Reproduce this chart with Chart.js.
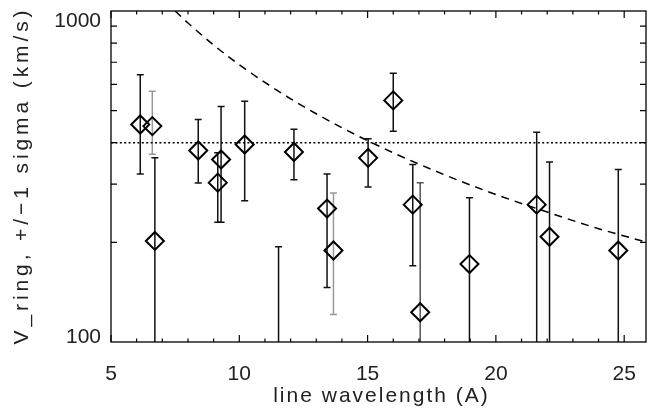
<!DOCTYPE html>
<html>
<head>
<meta charset="utf-8">
<script src="https://cdn.jsdelivr.net/npm/chart.js@4.4.1/dist/chart.umd.min.js"></script>
<style>
  html, body { margin: 0; padding: 0; background: #fff; }
</style>
</head>
<body>
<canvas id="chart" width="657" height="412"></canvas>
<script>
const wavelengths = [6.14, 6.61, 6.71, 8.40, 9.16, 9.29, 10.21, 11.53, 12.13, 13.42, 13.67, 15.02, 16.00, 16.76, 17.05, 18.97, 21.59, 22.09, 24.77];
const vRing = [454, 449, 202, 379, 303, 356, 395, 60, 375, 253, 189, 360, 537, 260, 123, 172, 260, 208, 189];
const vLow  = [322, 369, 50, 302, 230, 230, 267, 50, 309, 146, 121, 294, 433, 170, 50, 50, 50, 50, 50];
const vHigh = [642, 572, 360, 470, 373, 515, 534, 194, 439, 322, 282, 411, 649, 344, 303, 273, 430, 350, 332];
const barColors = ['#111', '#999', '#111', '#111', '#111', '#111', '#111', '#111', '#111', '#111', '#999', '#111', '#111', '#111', '#555', '#111', '#111', '#111', '#111'];

// dashed model curve
const curveWavelengths = [7.5, 8, 9, 10, 12, 14, 16, 18, 20, 22, 24, 26];
const curveV = [1000, 920, 789, 688, 543, 444, 373, 320, 279, 247, 220, 199];

// dotted reference level
const meanLevel = 400;

const xRange = [5, 25.85];
const yRange = [100, 1000];
const xTicks = [5, 10, 15, 20, 25];
const yTickLabels = [100, 1000];
const xTitle = 'line wavelength (A)';
const yTitle = 'V_ring, +/\u22121 sigma (km/s)';

const FONT = '"Liberation Sans", Arial, sans-serif';
const TEXT = '#222';

const idlFrame = {
  id: 'idlFrame',
  beforeDatasetsDraw(chart) {
    const { ctx, chartArea: a, scales: { x, y } } = chart;
    ctx.save();
    ctx.beginPath();
    ctx.rect(a.left, a.top, a.right - a.left, a.bottom - a.top);
    ctx.clip();
    ctx.lineWidth = 1.5;
    wavelengths.forEach((w, i) => {
      const px = x.getPixelForValue(w);
      const yl = y.getPixelForValue(vLow[i]);
      const yh = y.getPixelForValue(vHigh[i]);
      ctx.strokeStyle = barColors[i];
      ctx.beginPath();
      ctx.moveTo(px, yl); ctx.lineTo(px, yh);
      ctx.moveTo(px - 3.5, yh); ctx.lineTo(px + 3.5, yh);
      ctx.moveTo(px - 3.5, yl); ctx.lineTo(px + 3.5, yl);
      ctx.stroke();
    });
    ctx.restore();
  },
  afterDraw(chart) {
    const { ctx, chartArea: a, scales: { x, y } } = chart;
    ctx.save();
    ctx.strokeStyle = '#000';
    ctx.lineWidth = 1.3;
    ctx.strokeRect(a.left, a.top, a.right - a.left, a.bottom - a.top);

    // inward ticks, all four sides
    ctx.lineWidth = 1.2;
    ctx.beginPath();
    for (let v = xRange[0]; v <= xRange[1]; v += 1) {
      const px = x.getPixelForValue(v);
      const len = v % 5 === 0 ? 7 : 3.5;
      ctx.moveTo(px, a.bottom); ctx.lineTo(px, a.bottom - len);
      ctx.moveTo(px, a.top); ctx.lineTo(px, a.top + len);
    }
    for (let v = 200; v < yRange[1]; v += 100) {
      const py = y.getPixelForValue(v);
      ctx.moveTo(a.left, py); ctx.lineTo(a.left + 6, py);
      ctx.moveTo(a.right, py); ctx.lineTo(a.right - 6, py);
    }
    ctx.stroke();

    ctx.fillStyle = TEXT;
    ctx.font = '21px ' + FONT;
    ctx.textAlign = 'right';
    ctx.textBaseline = 'alphabetic';
    yTickLabels.forEach(v => {
      const py = y.getPixelForValue(v);
      const base = v === yRange[0] ? py + 1 : py + 16;
      ctx.fillText(String(v), a.left - 10, base);
    });

    ctx.textAlign = 'center';
    ctx.letterSpacing = '2px';
    ctx.fillText(xTitle, (a.left + a.right) / 2 + 3, 402);

    ctx.translate(28, (a.top + a.bottom) / 2 - 1);
    ctx.rotate(-Math.PI / 2);
    ctx.letterSpacing = '3.9px';
    ctx.fillText(yTitle, 0, 0);
    ctx.restore();
  }
};

new Chart(document.getElementById('chart'), {
  type: 'scatter',
  data: {
    datasets: [
      {
        data: wavelengths.map((w, i) => ({ x: w, y: vRing[i] })),
        pointStyle: 'rectRot',
        pointRadius: 9,
        pointHoverRadius: 9,
        borderColor: '#000',
        backgroundColor: 'rgba(0,0,0,0)',
        borderWidth: 2
      },
      {
        type: 'line',
        data: curveWavelengths.map((w, i) => ({ x: w, y: curveV[i] })),
        borderColor: '#000',
        borderWidth: 1.5,
        borderDash: [8, 6],
        pointRadius: 0,
        fill: false,
        cubicInterpolationMode: 'monotone'
      },
      {
        type: 'line',
        data: [{ x: xRange[0], y: meanLevel }, { x: xRange[1], y: meanLevel }],
        borderColor: '#000',
        borderWidth: 1.5,
        borderDash: [2, 2.4],
        pointRadius: 0,
        fill: false
      }
    ]
  },
  options: {
    responsive: false,
    animation: false,
    layout: { padding: { top: 9, right: 2, left: 0, bottom: 0 } },
    plugins: { legend: { display: false }, tooltip: { enabled: false } },
    scales: {
      x: {
        type: 'linear',
        min: xRange[0],
        max: xRange[1],
        afterBuildTicks: s => { s.ticks = xTicks.map(v => ({ value: v })); },
        afterFit: s => { s.height = 70; },
        grid: { display: false },
        border: { display: false },
        ticks: { color: TEXT, font: { family: FONT, size: 21 }, padding: 12, maxRotation: 0 }
      },
      y: {
        type: 'logarithmic',
        min: yRange[0],
        max: yRange[1],
        afterFit: s => { s.width = 111; },
        grid: { display: false },
        border: { display: false },
        ticks: { display: false }
      }
    }
  },
  plugins: [idlFrame]
});
</script>
</body>
</html>
